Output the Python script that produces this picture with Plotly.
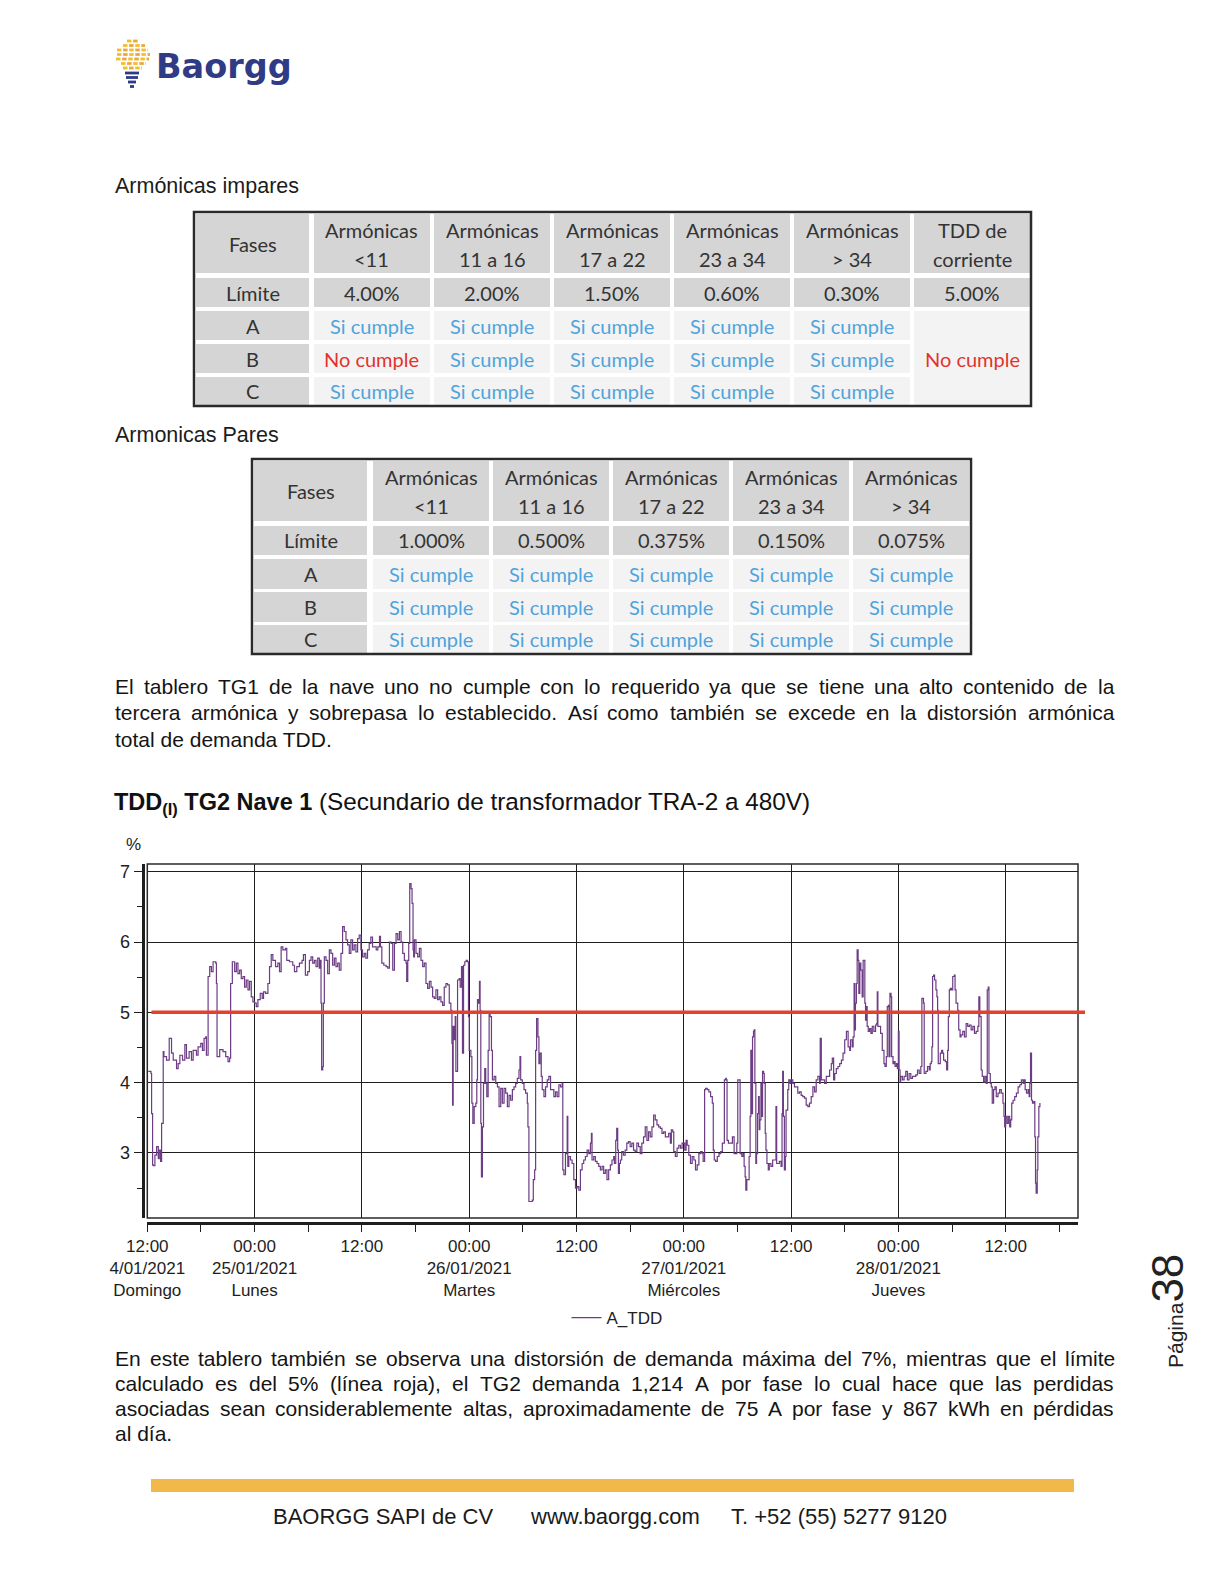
import plotly.graph_objects as go
import pandas as pd

W, H = 1224, 1584

# ------------------------------------------------------------------ data
T0 = pd.Timestamp("2021-01-24 12:00")
SERIES_NAME = "A_TDD"
LIMIT = 5.0

HOURS = [
    0.11, 0.41, 0.48, 0.59, 0.67, 0.85, 1.04, 1.23, 1.34, 1.49, 1.60, 1.78, 1.86, 2.15, 2.45, 2.71, 2.90, 3.27, 3.45, 3.64,
    3.94, 4.20, 4.38, 4.68, 4.94, 5.13, 5.50, 5.68, 5.98, 6.17, 6.35, 6.54, 6.61, 6.80, 6.98, 7.17, 7.36, 7.65, 7.73, 7.80,
    8.10, 8.47, 8.77, 9.03, 9.21, 9.32, 9.51, 9.77, 9.96, 10.14, 10.33, 10.51, 10.70, 10.88, 11.07, 11.26, 11.44, 11.63, 11.81, 12.00,
    12.19, 12.37, 12.63, 12.85, 13.00, 13.23, 13.49, 13.67, 13.86, 14.04, 14.34, 14.60, 14.79, 14.97, 15.16, 15.45, 15.60, 15.90, 16.27, 16.46,
    16.72, 17.01, 17.31, 17.46, 17.68, 17.94, 18.13, 18.31, 18.50, 18.69, 18.87, 19.06, 19.24, 19.36, 19.43, 19.50, 19.62, 19.69, 19.80, 19.99,
    20.17, 20.36, 20.54, 20.73, 20.92, 21.10, 21.29, 21.47, 21.66, 21.84, 22.03, 22.22, 22.40, 22.59, 22.77, 22.96, 23.14, 23.33, 23.52, 23.70,
    23.89, 24.07, 24.26, 24.44, 24.63, 24.82, 25.00, 25.19,
    25.60, 25.78, 25.97, 26.08, 26.23, 26.45, 26.71, 26.90, 27.08, 27.27, 27.45, 27.64, 27.82, 28.01, 28.20, 28.38, 28.57, 28.75, 28.94, 29.01,
    29.13, 29.24, 29.35, 29.50, 29.61, 29.72, 29.79, 29.87, 30.05, 30.24, 30.43, 30.61, 30.80, 30.98, 31.17, 31.35, 31.54, 31.73, 31.91, 32.10,
    32.28, 32.47, 32.65, 32.84, 33.03, 33.21, 33.40, 33.58, 33.77, 33.95, 34.07, 34.14, 34.21, 34.33, 34.44, 34.51, 34.62, 34.70, 34.88, 34.99,
    35.14, 35.25, 35.37, 35.51, 35.66, 35.81, 35.92, 36.00, 36.19, 36.30, 36.41, 36.56, 36.74, 36.85, 36.93, 37.04, 37.15, 37.22, 37.30, 37.37,
    37.48, 37.60, 37.74, 37.85, 37.97, 38.12, 38.23, 38.34, 38.49, 38.60, 38.79, 38.97, 39.16, 39.34, 39.53, 39.71, 39.90, 40.08, 40.27, 40.46,
    40.64, 40.83, 41.01, 41.20, 41.38, 41.57, 41.68, 41.76, 41.94, 42.13, 42.31, 42.50, 42.57, 42.68, 42.87, 43.06, 43.17, 43.32, 43.43, 43.54,
    43.69, 43.80, 43.91, 44.06, 44.17, 44.36, 44.54, 44.73, 44.91, 45.10, 45.29, 45.47, 45.66, 45.84, 46.03, 46.21, 46.40, 46.47, 46.59, 46.77,
    46.96, 47.03, 47.14, 47.33, 47.51, 47.70, 47.89, 48.07, 48.26, 48.44, 48.63, 48.81, 49.00, 49.19, 49.37, 49.56, 49.67, 49.74, 49.93, 50.11,
    50.30, 50.49, 50.67, 50.86, 51.04, 51.23, 51.41, 51.60, 51.79, 51.97, 52.16,
    52.24, 52.39, 52.50, 52.61, 52.69, 52.80, 52.91, 53.06, 53.25, 53.44, 53.63, 53.81, 54.00, 54.19, 54.38, 54.56, 54.75, 54.94, 55.13, 55.31,
    55.50, 55.69, 55.88, 56.06, 56.25, 56.44, 56.63, 56.81, 57.00, 57.19, 57.38, 57.56, 57.75, 57.94, 58.13, 58.31, 58.50, 58.61, 58.76, 58.88,
    59.06, 59.25, 59.44, 59.63, 59.81, 60.11, 60.26, 60.38, 60.56, 60.75, 60.94, 61.13, 61.31, 61.50, 61.69, 61.88, 62.06, 62.17, 62.33, 62.44,
    62.63, 62.81, 63.00, 63.19, 63.30, 63.41, 63.56, 63.75, 63.94, 64.13, 64.31, 64.42, 64.54, 64.69, 64.76, 64.84, 64.99, 65.25, 65.44, 65.63,
    65.81, 65.93, 66.04, 66.19, 66.30, 66.49, 66.64, 66.75, 66.86, 66.94, 67.05, 67.16, 67.31, 67.42, 67.50, 67.61, 67.69, 67.80, 67.88, 67.95,
    68.06, 68.14, 68.25, 68.36, 68.44, 68.51, 68.63, 68.74, 68.81, 68.93, 69.00, 69.11, 69.19, 69.30, 69.45, 69.56, 69.75, 69.94, 70.13, 70.31,
    70.39, 70.50, 70.69, 70.88, 70.99, 71.06, 71.14, 71.25, 71.36, 71.44, 71.63, 71.74, 71.89, 72.00, 72.19, 72.38, 72.56, 72.75, 72.94, 73.13,
    73.31, 73.50, 73.69, 73.88, 74.06, 74.25, 74.44, 74.63, 74.81, 75.00, 75.19, 75.26, 75.38, 75.56, 75.75, 75.94, 76.13, 76.31, 76.50, 76.61,
    76.76, 76.88, 77.06, 77.25, 77.44, 77.63, 77.81, 78.00, 78.19, 78.38, 78.56,
    78.64, 78.83, 78.94, 79.05, 79.13, 79.20, 79.31, 79.39, 79.50, 79.58, 79.69, 79.80, 79.95, 80.06, 80.18, 80.25, 80.33, 80.40, 80.51, 80.63,
    80.78, 80.93, 81.08, 81.26, 81.45, 81.56, 81.64, 81.71, 81.83, 82.01, 82.20, 82.39, 82.50, 82.65, 82.76, 82.88, 82.95, 83.06, 83.18, 83.25,
    83.40, 83.51, 83.63, 83.78, 83.89, 84.00, 84.08, 84.19, 84.26, 84.45, 84.64, 84.83, 85.01, 85.20, 85.39, 85.58, 85.76, 85.95, 86.14, 86.33,
    86.51, 86.63, 86.70, 86.81, 86.89, 87.08, 87.26, 87.45, 87.56, 87.68, 87.75, 87.83, 87.94, 88.05, 88.20, 88.31, 88.39, 88.46, 88.58, 88.69,
    88.84, 88.95, 89.06, 89.25, 89.40, 89.51, 89.59, 89.70, 89.81, 89.93, 90.08, 90.26, 90.34, 90.45, 90.64, 90.75, 90.90, 91.01, 91.20, 91.39,
    91.58, 91.76, 91.95, 92.14, 92.33, 92.51, 92.70, 92.89, 93.00, 93.11, 93.26, 93.38, 93.53, 93.68, 93.83, 93.94, 94.05, 94.13, 94.28, 94.39,
    94.50, 94.65, 94.80, 94.95, 95.14, 95.33, 95.51, 95.70, 95.81, 95.89, 96.00, 96.15, 96.30, 96.45, 96.56, 96.68, 96.83, 97.01, 97.20, 97.39,
    97.58, 97.76, 97.95, 98.06, 98.18, 98.33, 98.51, 98.63, 98.70, 98.78, 98.89, 99.00, 99.15, 99.26, 99.34, 99.41, 99.53, 99.60, 99.71, 99.83,
]

TDD = [
    4.16, 4.13, 3.56, 2.83, 2.82, 2.97, 3.09, 2.92, 3.04, 2.88, 3.42, 4.44, 4.37, 4.32, 4.63, 4.42, 4.32, 4.20, 4.27, 4.39,
    4.32, 4.54, 4.35, 4.44, 4.32, 4.46, 4.39, 4.51, 4.56, 4.46, 4.63, 4.65, 4.39, 5.51, 5.65, 5.58, 5.72, 5.70, 5.41, 4.37,
    4.47, 4.44, 4.37, 4.30, 4.35, 5.41, 5.72, 5.58, 5.70, 5.55, 5.60, 5.48, 5.51, 5.36, 5.46, 5.32, 5.44, 5.22, 5.15, 5.13,
    5.08, 5.18, 5.27, 5.20, 5.29, 5.27, 5.41, 5.65, 5.82, 5.74, 5.65, 5.70, 5.58, 5.93, 5.89, 5.91, 5.74, 5.72, 5.67, 5.58,
    5.65, 5.70, 5.74, 5.82, 5.53, 5.58, 5.74, 5.79, 5.70, 5.74, 5.65, 5.77, 5.63, 5.74, 5.13, 4.18, 4.23, 5.13, 5.79, 5.74,
    5.55, 5.89, 5.84, 5.67, 5.77, 5.65, 5.70, 5.60, 5.84, 6.22, 6.15, 6.03, 5.96, 5.84, 6.03, 5.89, 5.96, 5.86, 6.05, 6.10,
    5.89, 5.79, 5.84, 5.77, 5.89, 5.98, 6.07, 5.93,
    5.89, 5.93, 6.08, 5.93, 5.70, 5.67, 5.65, 5.63, 6.00, 5.98, 5.60, 5.98, 6.12, 6.03, 6.15, 6.00, 5.84, 5.74, 5.70, 5.44,
    5.74, 5.98, 6.83, 6.76, 6.55, 5.89, 5.79, 6.03, 5.84, 5.79, 5.91, 5.74, 5.65, 5.70, 5.41, 5.34, 5.44, 5.36, 5.22, 5.20,
    5.32, 5.18, 5.22, 5.15, 5.10, 5.36, 5.41, 5.39, 5.13, 5.03, 4.56, 3.68, 4.80, 4.61, 4.94, 4.16, 4.16, 5.46, 5.48, 5.36,
    5.65, 4.42, 5.67, 5.72, 5.74, 5.72, 4.94, 4.46, 4.37, 3.71, 3.42, 3.66, 3.71, 4.04, 5.18, 5.13, 5.44, 5.03, 3.42, 2.66,
    3.37, 3.99, 4.20, 3.99, 3.80, 4.46, 4.99, 4.94, 4.46, 4.04, 4.09, 3.99, 3.94, 3.66, 3.92, 3.71, 3.92, 3.85, 3.66, 3.82,
    3.75, 3.90, 3.94, 3.99, 4.06, 4.18, 4.37, 4.04, 3.99, 3.90, 3.85, 3.71, 3.37, 2.31, 2.31, 2.33, 2.62, 2.76, 4.46, 4.91,
    4.65, 4.27, 4.42, 4.09, 3.90, 3.80, 3.94, 4.04, 4.09, 3.90, 3.90, 3.80, 3.87, 3.80, 3.97, 3.94, 3.99, 2.76, 2.69, 2.99,
    3.52, 2.81, 2.95, 2.90, 2.85, 2.62, 2.50, 2.52, 2.47, 2.76, 2.85, 2.90, 2.95, 3.04, 2.99, 3.14, 3.28, 2.90, 2.95, 2.88,
    2.85, 2.81, 2.76, 2.81, 2.71, 2.76, 2.62, 2.76, 2.83, 2.90, 2.95,
    2.85, 3.18, 3.35, 3.04, 2.71, 2.85, 2.90, 3.02, 2.97, 3.04, 3.14, 3.16, 3.09, 3.14, 3.04, 3.02, 3.14, 3.09, 2.99, 3.14,
    3.23, 3.37, 3.18, 3.30, 3.23, 3.37, 3.54, 3.47, 3.40, 3.37, 3.35, 3.28, 3.30, 3.23, 3.23, 3.28, 3.14, 3.33, 3.30, 3.02,
    2.95, 3.07, 3.11, 3.07, 3.14, 3.04, 3.18, 3.11, 2.97, 2.85, 2.95, 2.90, 2.76, 2.83, 2.99, 3.02, 2.99, 2.88, 3.90, 3.92,
    3.90, 3.87, 3.80, 3.71, 3.04, 2.90, 2.88, 2.95, 2.99, 3.02, 3.14, 3.14, 4.04, 4.06, 4.04, 3.18, 3.14, 3.14, 3.23, 2.99,
    2.99, 3.14, 4.04, 4.04, 2.99, 2.95, 2.99, 2.81, 2.66, 2.47, 2.62, 2.62, 2.95, 3.52, 4.46, 3.56, 4.65, 4.73, 4.75, 3.99,
    2.85, 2.99, 3.56, 3.80, 3.33, 3.47, 3.99, 3.52, 4.16, 4.13, 3.99, 3.28, 3.04, 2.85, 2.76, 2.85, 2.81, 2.90, 2.90, 3.66,
    2.85, 2.85, 2.88, 2.81, 3.56, 4.16, 3.52, 2.76, 2.95, 3.61, 3.90, 4.04, 3.99, 4.04, 3.99, 3.94, 3.94, 3.85, 3.87, 3.82,
    3.80, 3.78, 3.68, 3.66, 3.71, 3.80, 3.94, 3.87, 4.04, 4.09, 3.99, 4.63, 4.04, 4.04, 3.99, 4.09, 4.09, 4.18, 4.27, 4.35,
    4.04, 4.13, 4.20, 4.23, 4.27, 4.32, 4.42, 4.61, 4.73, 4.51, 4.46,
    4.61, 4.51, 4.65, 5.41, 4.75, 5.13, 5.41, 5.89, 5.74, 5.27, 5.70, 5.60, 5.22, 5.74, 5.74, 5.13, 4.89, 5.08, 4.80, 4.73,
    4.77, 4.70, 4.80, 4.73, 4.82, 4.84, 5.29, 4.80, 4.80, 4.70, 4.46, 4.27, 4.23, 4.37, 5.08, 5.10, 4.37, 5.27, 5.22, 4.37,
    4.27, 4.30, 4.23, 4.27, 4.20, 4.73, 4.18, 4.01, 4.09, 4.04, 4.09, 4.16, 4.04, 4.13, 4.06, 4.09, 4.09, 4.11, 4.18, 4.13,
    4.23, 5.20, 5.20, 5.13, 4.13, 4.16, 4.23, 4.18, 4.27, 4.30, 4.51, 5.51, 5.53, 5.46, 5.32, 5.22, 5.03, 4.27, 4.27, 4.42,
    4.46, 4.42, 4.32, 4.30, 4.18, 4.46, 4.94, 5.32, 5.34, 5.32, 5.51, 5.53, 5.32, 5.13, 5.03, 4.75, 4.65, 4.68, 4.73, 4.65,
    4.84, 4.80, 4.82, 4.75, 4.80, 4.70, 4.73, 4.80, 5.22, 4.94, 4.18, 4.09, 4.01, 4.09, 3.99, 5.32, 5.36, 4.13, 3.99, 3.94,
    3.71, 3.90, 3.94, 3.80, 3.85, 3.90, 3.85, 3.71, 3.52, 3.37, 3.52, 3.42, 3.52, 3.37, 3.47, 3.71, 3.75, 3.80, 3.85, 3.94,
    3.97, 4.04, 3.99, 4.04, 3.90, 3.85, 3.90, 3.80, 3.99, 4.42, 3.75, 3.71, 3.73, 3.23, 2.57, 2.43, 2.76, 3.23, 3.66, 3.71,
]

X_TICK_LABELS = [
    "12:00<br>4/01/2021<br>Domingo",
    "00:00<br>25/01/2021<br>Lunes",
    "12:00",
    "00:00<br>26/01/2021<br>Martes",
    "12:00",
    "00:00<br>27/01/2021<br>Miércoles",
    "12:00",
    "00:00<br>28/01/2021<br>Jueves",
    "12:00",
]
Y_TICKS = [3, 4, 5, 6, 7]

T1_HEAD1 = ["Armónicas", "Armónicas", "Armónicas", "Armónicas", "Armónicas", "TDD de"]
T1_HEAD2 = ["&lt;11", "11 a 16", "17 a 22", "23 a 34", "&gt; 34", "corriente"]
T1_LIMITS = ["4.00%", "2.00%", "1.50%", "0.60%", "0.30%", "5.00%"]
T1_STATUS = [
    ["Si cumple", "Si cumple", "Si cumple", "Si cumple", "Si cumple"],
    ["No cumple", "Si cumple", "Si cumple", "Si cumple", "Si cumple"],
    ["Si cumple", "Si cumple", "Si cumple", "Si cumple", "Si cumple"],
]
T1_TDD_STATUS = "No cumple"

T2_HEAD1 = ["Armónicas", "Armónicas", "Armónicas", "Armónicas", "Armónicas"]
T2_HEAD2 = ["&lt;11", "11 a 16", "17 a 22", "23 a 34", "&gt; 34"]
T2_LIMITS = ["1.000%", "0.500%", "0.375%", "0.150%", "0.075%"]
T2_STATUS = [
    ["Si cumple"] * 5,
    ["Si cumple"] * 5,
    ["Si cumple"] * 5,
]
PHASES = ["A", "B", "C"]

P1_LINES = [
    "El tablero TG1 de la nave uno no cumple con lo requerido ya que se tiene una alto contenido de la",
    "tercera armónica y sobrepasa lo establecido. Así como también se excede en la distorsión armónica",
    "total de demanda TDD.",
]
P2_LINES = [
    "En este tablero también se observa una distorsión de demanda máxima del 7%, mientras que el límite",
    "calculado es del 5% (línea roja), el TG2 demanda 1,214 A por fase lo cual hace que las perdidas",
    "asociadas sean considerablemente altas, aproximadamente de 75 A por fase y 867 kWh en pérdidas",
    "al día.",
]
FOOTER = ["BAORGG SAPI de CV", "www.baorgg.com", "T. +52 (55) 5277 9120"]
PAGE_NUMBER = "38"

# ------------------------------------------------------------------ helpers
def X(px):
    return px / W


def Y(py):
    return 1 - py / H


shapes = []
annotations = []

ARIAL = "Liberation Sans, Arial, sans-serif"
CAL = "Lato, Carlito, sans-serif"
GRAY = "#d5d5d5"
LIGHT = "#f3f3f3"
BLUE = "#4fa3dc"
RED_T = "#e2332e"
DARK = "#1c1c1c"

# Arial / Liberation Sans advance widths (1/1000 em) for justification
_AW = {" ": 278, ",": 278, ".": 278, "%": 889, "(": 333, ")": 333, "-": 333, ":": 278}
for ch in "0123456789":
    _AW[ch] = 556
for ch, w in zip("ABCDEFGHIJKLMNOPQRSTUVWXYZ",
                 [667, 667, 722, 722, 667, 611, 778, 722, 278, 500, 667, 556, 833, 722, 778, 667, 778, 722, 667, 611, 722, 667, 944, 667, 667, 611]):
    _AW[ch] = w
for ch, w in zip("abcdefghijklmnopqrstuvwxyz",
                 [556, 556, 500, 556, 556, 278, 556, 556, 222, 222, 500, 222, 833, 556, 556, 556, 556, 333, 500, 278, 556, 500, 722, 500, 500, 500]):
    _AW[ch] = w
for ch, base in zip("áéíóúñÁÉÍÓÚ", "aeioun" + "AEIOU"):
    _AW[ch] = _AW[base]


def text_width(s, size):
    return sum(_AW.get(c, 556) for c in s) * size / 1000.0


def rect(x0, y0, x1, y1, fill, line_color=None, lw=0, layer="below"):
    shapes.append(dict(type="rect", xref="paper", yref="paper",
                       x0=X(x0), x1=X(x1), y0=Y(y1), y1=Y(y0),
                       fillcolor=fill, layer=layer,
                       line=dict(width=lw, color=line_color or fill)))


def text(x, y, s, size, color=DARK, family=ARIAL, xanchor="center", angle=0):
    annotations.append(dict(x=X(x), y=Y(y), xref="paper", yref="paper", text=s,
                            showarrow=False, xanchor=xanchor, yanchor="middle",
                            textangle=angle,
                            font=dict(family=family, size=size, color=color)))


def justified(line, x0, x1, y, size, color="#141414"):
    words = line.split(" ")
    widths = [text_width(w, size) for w in words]
    gap = (x1 - x0 - sum(widths)) / (len(words) - 1)
    x = x0
    for w, wd in zip(words, widths):
        text(x, y, w, size, color, xanchor="left")
        x += wd + gap


# ------------------------------------------------------------------ logo
NAVY = "#2f3b85"
bulb_rows = [(41, 127, 139), (45.5, 121, 145), (50, 117, 148), (54.5, 115, 150),
             (59, 116, 149), (63.5, 119, 146), (68, 123, 142)]
for r, (yy, xa, xb) in enumerate(bulb_rows):
    xs = xa + (r % 2) * 2
    k = 0
    while xs < xb:
        xe = min(xs + 4.5, xb)
        rect(xs, yy - 1.4, xe, yy + 1.4, "#f2bf2c" if k % 2 == 0 else "#e9a73c", layer="above")
        xs = xe + 1.6
        k += 1
for yy, xa, xb in [(73, 125, 139), (77.5, 126, 138), (82, 128, 136), (86.5, 130, 134)]:
    rect(xa, yy - 1.4, xb, yy + 1.4, NAVY, layer="above")
text(154, 67, "<b>Baorgg</b>", 33.5, NAVY, "DejaVu Sans, sans-serif", xanchor="left")

# ------------------------------------------------------------------ headings
text(113, 186, "Armónicas impares", 21.5, xanchor="left")
text(113, 435, "Armonicas Pares", 21.5, xanchor="left")


# ------------------------------------------------------------------ tables
def draw_table(left, right, top, bottom, fases_x0, fases_x1, col_c0, head1, head2,
               limits, status, rows_y, merged_last=None):
    (h0, h1), lim_rows, ph_rows = rows_y[0], rows_y[1], rows_y[2:]
    ncol = len(head1)
    centers = [col_c0 + 120 * i for i in range(ncol)]
    fc = (fases_x0 + fases_x1) / 2
    rect(fases_x0, h0, fases_x1, h1, GRAY)
    text(fc, (h0 + h1) / 2, "Fases", 20, "#333", CAL)
    for i, c in enumerate(centers):
        rect(c - 58, h0, c + 58, h1, GRAY)
        text(c, h0 + 16, head1[i], 20, "#333", CAL)
        text(c, h0 + 45, head2[i], 20, "#333", CAL)
    l0, l1 = lim_rows
    rect(fases_x0, l0, fases_x1, l1, GRAY)
    text(fc, (l0 + l1) / 2, "Límite", 20, "#333", CAL)
    for i, c in enumerate(centers):
        rect(c - 58, l0, c + 58, l1, GRAY)
        text(c, (l0 + l1) / 2, limits[i], 20, "#333", CAL)
    for r, (p0, p1) in enumerate(ph_rows):
        rect(fases_x0, p0, fases_x1, p1, GRAY)
        text(fc, (p0 + p1) / 2, PHASES[r], 20, "#333", CAL)
        for i, s in enumerate(status[r]):
            c = centers[i]
            rect(c - 58, p0, c + 58, p1, LIGHT)
            text(c, (p0 + p1) / 2, s, 20, RED_T if s.startswith("No") else BLUE, CAL)
    if merged_last is not None:
        c = centers[-1]
        rect(c - 58, ph_rows[0][0], c + 58, ph_rows[-1][1], LIGHT)
        b0, b1 = ph_rows[1]
        text(c, (b0 + b1) / 2, merged_last, 20, RED_T, CAL)
    shapes.append(dict(type="rect", xref="paper", yref="paper", x0=X(left), x1=X(right),
                       y0=Y(bottom), y1=Y(top), line=dict(color="#2a2a2a", width=2.5),
                       fillcolor="rgba(0,0,0,0)", layer="above"))


draw_table(194, 1031, 212, 406, 196, 309, 372, T1_HEAD1, T1_HEAD2, T1_LIMITS, T1_STATUS,
           [(214, 273), (278, 307), (311, 340), (344, 373), (377, 405)],
           merged_last=T1_TDD_STATUS)
draw_table(252, 971, 459, 654, 254, 367, 431, T2_HEAD1, T2_HEAD2, T2_LIMITS, T2_STATUS,
           [(461, 521), (526, 555), (559, 589), (592, 622), (625, 653)])

# ------------------------------------------------------------------ paragraphs
for i, line in enumerate(P1_LINES):
    yy = 686 + 26.8 * i
    if i < len(P1_LINES) - 1:
        justified(line, 113, 1112, yy, 21)
    else:
        text(113, yy, line, 21, "#141414", xanchor="left")
for i, line in enumerate(P2_LINES):
    yy = 1358 + 25 * i
    if i < len(P2_LINES) - 1:
        justified(line, 113, 1112, yy, 21)
    else:
        text(113, yy, line, 21, "#141414", xanchor="left")

# chart title
text(112, 803, "<b>TDD<sub>(I)</sub> TG2 Nave 1</b> <span style='font-size:24.3px'>(Secundario de transformador TRA-2 a 480V)</span>",
     23.5, "#111", xanchor="left")
text(133, 845, "%", 17, "#222")

# footer
rect(151, 1479, 1074, 1492, "#f1b94a")
for s, xl in zip(FOOTER, [271, 528, 729]):
    text(xl, 1516, s, 22, "#1a1a1a", xanchor="left")

# page number
text(1167, 1311, "Página<span style='font-size:44px'>" + PAGE_NUMBER + "</span>", 21, "#222", angle=-90)

# ------------------------------------------------------------------ chart
times = [(T0 + pd.Timedelta(hours=h)).strftime("%Y-%m-%d %H:%M:%S") for h in HOURS]
tick_times = [(T0 + pd.Timedelta(hours=12 * i)).strftime("%Y-%m-%d %H:%M:%S") for i in range(len(X_TICK_LABELS))]
x_start = T0.strftime("%Y-%m-%d %H:%M:%S")
x_end = (T0 + pd.Timedelta(hours=104.09)).strftime("%Y-%m-%d %H:%M:%S")

fig = go.Figure()
fig.add_trace(go.Scatter(x=times, y=TDD, mode="lines", name=SERIES_NAME,
                         line=dict(color="#6c3c84", width=1.2, shape="hv")))

shapes.append(dict(type="rect", xref="x domain", yref="y domain", x0=0, x1=1, y0=0, y1=1,
                   line=dict(color="#2a2a2a", width=1.5), fillcolor="rgba(0,0,0,0)", layer="above"))
shapes.append(dict(type="line", xref="paper", yref="y", x0=X(151.5), x1=X(1085),
                   y0=LIMIT, y1=LIMIT, line=dict(color="#e4412d", width=3.5), layer="above"))

AX = "#1e1e1e"
fig.update_layout(
    width=W, height=H, margin=dict(l=0, r=0, t=0, b=0, autoexpand=False),
    paper_bgcolor="white", plot_bgcolor="white",
    shapes=shapes, annotations=annotations,
    showlegend=True,
    legend=dict(x=X(617), y=Y(1318), xanchor="center", yanchor="middle", orientation="h",
                font=dict(family=ARIAL, size=17, color="#222"), bgcolor="rgba(0,0,0,0)"),
    xaxis=dict(
        domain=[X(147.3), X(1078)], type="date", range=[x_start, x_end],
        anchor="free", position=Y(1222.5), automargin=False,
        showline=True, linewidth=3, linecolor=AX,
        ticks="outside", ticklen=7, tickwidth=1.3, tickcolor=AX,
        tickmode="array", tickvals=tick_times, ticktext=X_TICK_LABELS,
        tickfont=dict(family=ARIAL, size=17, color=AX),
        showgrid=True, gridcolor=AX, gridwidth=1.2, zeroline=False,
        minor=dict(dtick=6 * 3600 * 1000, tick0=x_start,
                   ticks="outside", ticklen=7, tickwidth=1.3, tickcolor=AX, showgrid=False),
        fixedrange=True,
    ),
    yaxis=dict(
        domain=[Y(1218), Y(864)], range=[2.075, 7.11],
        anchor="free", position=X(142.5), automargin=False,
        showline=True, linewidth=3, linecolor=AX,
        ticks="outside", ticklen=8, tickwidth=1.3, tickcolor=AX,
        tickmode="array", tickvals=Y_TICKS,
        tickfont=dict(family=ARIAL, size=18, color=AX),
        showgrid=True, gridcolor=AX, gridwidth=1.2, zeroline=False,
        minor=dict(dtick=0.5, ticks="outside", ticklen=5, tickwidth=1.2, tickcolor=AX, showgrid=False),
        fixedrange=True,
    ),
)

fig.write_html("out.html", config={"displayModeBar": False},
               post_script="document.body.style.margin='0px';document.body.style.overflow='hidden';")
